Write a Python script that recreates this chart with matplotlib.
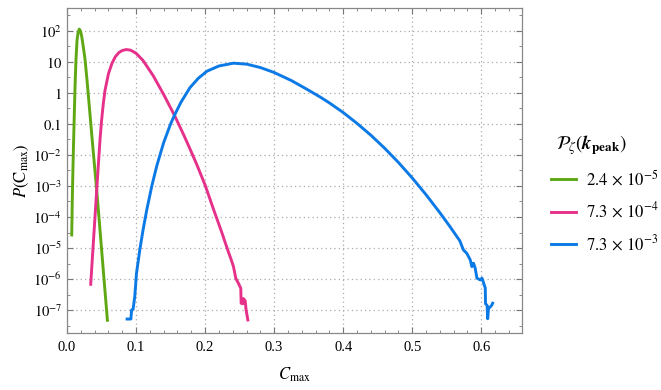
import matplotlib
matplotlib.use('Agg')
import matplotlib.pyplot as plt
import numpy as np
from matplotlib.ticker import FixedLocator, MultipleLocator

# 数据（从图中读取，y 为 log10 值）
x_a = [0.0068, 0.0075, 0.0083, 0.0092, 0.0104, 0.0116, 0.0130, 0.0145, 0.0160, 0.0178,
       0.0195, 0.0213, 0.0235, 0.0260, 0.0290, 0.0330, 0.0380, 0.0430, 0.0460, 0.0500,
       0.0540, 0.0585]
logy_a = [-4.58, -3.60, -2.70, -1.85, -0.80, 0.20, 1.10, 1.70, 1.95, 2.06,
          2.00, 1.82, 1.50, 1.10, 0.40, -0.62, -1.90, -3.13, -3.94, -5.03,
          -6.12, -7.33]

x_b = [0.0343, 0.0370, 0.0400, 0.0430, 0.0455, 0.0478, 0.0500, 0.0525, 0.0550, 0.0600,
       0.0650, 0.0700, 0.0750, 0.0800, 0.0860, 0.0920, 0.1000, 0.1100, 0.1250, 0.1400,
       0.1565, 0.1700, 0.1780, 0.1855, 0.1900, 0.2000, 0.2120, 0.2242, 0.2338, 0.2377,
       0.2411, 0.2445, 0.2483, 0.2517, 0.2522, 0.2545, 0.2555, 0.2580, 0.2594, 0.2619]
logy_b = [-6.17, -5.22, -4.18, -3.13, -2.27, -1.50, -0.90, -0.35, 0.08, 0.62,
          0.95, 1.17, 1.30, 1.37, 1.40, 1.38, 1.28, 1.05, 0.55, -0.05,
          -0.76, -1.40, -1.80, -2.18, -2.42, -2.97, -3.74, -4.50, -5.13, -5.37,
          -5.60, -5.98, -6.14, -6.30, -6.78, -6.80, -6.63, -6.70, -7.00, -7.32]

x_c = [0.0870, 0.0925, 0.0935, 0.0957, 0.0981, 0.1006, 0.1054, 0.1101, 0.1155, 0.1228,
       0.1300, 0.1400, 0.1500, 0.1556, 0.1650, 0.1780, 0.1900, 0.2025, 0.2200, 0.2410,
       0.2600, 0.2800, 0.3000, 0.3250, 0.3474, 0.3666, 0.3800, 0.4000, 0.4200, 0.4400,
       0.4600, 0.4800, 0.5000, 0.5200, 0.5400, 0.5550, 0.5690, 0.5741, 0.5790, 0.5840,
       0.5864, 0.5888, 0.5912, 0.5937, 0.5986, 0.6010, 0.6034, 0.6058, 0.6062, 0.6085,
       0.6093, 0.6105, 0.6130, 0.6150, 0.6165]
logy_c = [-7.29, -7.29, -7.00, -6.97, -6.57, -5.82, -5.06, -4.42, -3.77, -3.00,
          -2.35, -1.60, -1.00, -0.72, -0.30, 0.17, 0.47, 0.70, 0.87, 0.96,
          0.93, 0.82, 0.66, 0.40, 0.12, -0.13, -0.32, -0.63, -0.98, -1.36,
          -1.78, -2.24, -2.74, -3.28, -3.86, -4.32, -4.77, -5.06, -5.17, -5.38,
          -5.60, -5.49, -5.65, -5.97, -6.03, -5.97, -6.13, -6.29, -6.80, -6.85,
          -7.28, -6.95, -6.90, -6.85, -6.78]

labels = [r'$2.4\,\times\,10^{-5}$', r'$7.3\,\times\,10^{-4}$', r'$7.3\,\times\,10^{-3}$']
colors = ['#5FA814', '#E5318A', '#0B7AE6']

y_ticks = [2, 1, 0, -1, -2, -3, -4, -5, -6, -7]
y_ticklabels = [r'$10^{2}$', r'$10$', r'$1$', r'$0.1$', r'$10^{-2}$', r'$10^{-3}$',
                r'$10^{-4}$', r'$10^{-5}$', r'$10^{-6}$', r'$10^{-7}$']
x_ticks = [0.0, 0.1, 0.2, 0.3, 0.4, 0.5, 0.6]

plt.rcParams['font.family'] = ['Liberation Serif', 'DejaVu Serif']
plt.rcParams['mathtext.fontset'] = 'stix'

fig = plt.figure(figsize=(6.61, 3.90), dpi=100)
ax = fig.add_axes([0.1014, 0.1462, 0.6883, 0.8333])

for xs, ly, c, lab in zip([x_a, x_b, x_c], [logy_a, logy_b, logy_c], colors, labels):
    ax.plot(xs, 10.0 ** np.array(ly), color=c, lw=2.1, label=lab, solid_joinstyle='round')

ax.set_yscale('log')
ax.set_xlim(0, 0.659)
ax.set_ylim(10 ** -7.74, 10 ** 2.74)

ax.set_yticks([10.0 ** t for t in y_ticks])
ax.set_yticklabels(y_ticklabels)
ax.yaxis.set_minor_locator(FixedLocator([10.0 ** (t + 0.5) for t in range(-8, 3)]))
ax.yaxis.set_minor_formatter(plt.NullFormatter())
ax.set_xticks(x_ticks)
ax.set_xticklabels([f'{t:.1f}' for t in x_ticks])
ax.xaxis.set_minor_locator(MultipleLocator(0.02))

ax.tick_params(which='both', direction='in', top=True, right=True, colors='#777777',
               labelcolor='black', labelsize=10.5)
ax.tick_params(which='major', length=4.5, width=0.8)
ax.tick_params(which='minor', length=2.5, width=0.6)
ax.tick_params(axis='x', pad=6)
for s in ax.spines.values():
    s.set_color('#888888')
    s.set_linewidth(0.9)

ax.grid(True, which='major', ls=(0, (1, 2.5)), color='#aaaaaa', lw=0.9)

ax.set_xlabel(r'$C_{\max}$', fontsize=12, labelpad=8)
ax.set_ylabel(r'$P(\mathrm{C}_{\max})$', fontsize=12, labelpad=2)

leg = ax.legend(loc='center left', bbox_to_anchor=(1.03, 0.43), frameon=False,
                title=r'$\mathcal{P}_{\zeta}(\boldsymbol{k}_{\mathbf{peak}})$',
                fontsize=12, title_fontsize=13.5, handlelength=1.5, labelspacing=0.75,
                handletextpad=0.6)
leg._legend_box.align = 'left'
leg.get_title().set_position((5, 0))

fig.savefig('out.png', dpi=100)
